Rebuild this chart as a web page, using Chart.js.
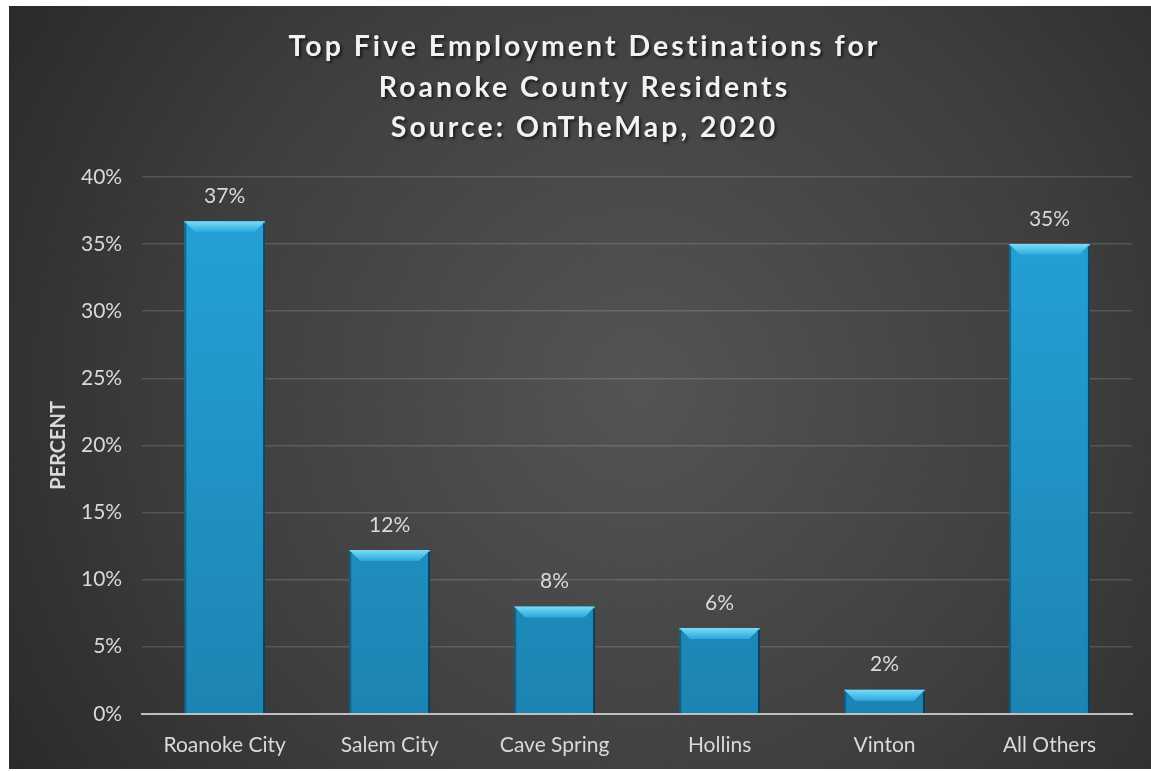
<!DOCTYPE html>
<html>
<head>
<meta charset="utf-8">
<script src="https://cdn.jsdelivr.net/npm/chart.js@4.4.1/dist/chart.umd.min.js"></script>
<style>
    body { margin: 0; background: #ffffff; }
    #wrap { position: absolute; left: 9px; top: 6px; width: 1142px; height: 763px; }
</style>
</head>
<body>
<div id="wrap"><canvas id="barchart"></canvas></div>
<script>
// data
const places = ['Roanoke City', 'Salem City', 'Cave Spring', 'Hollins', 'Vinton', 'All Others'];
const shares = [36.7, 12.2, 8.0, 6.4, 1.8, 35.0];
const titleLines = ['Top Five Employment Destinations for', 'Roanoke County Residents', 'Source: OnTheMap, 2020'];
const axisTitle = 'PERCENT';

const textColor = '#d9d9d9';
const fontName = 'Lato, "Noto Sans", sans-serif';

// dark radial background + title
const backdrop = {
    id: 'backdrop',
    beforeDraw(chart) {
        const ctx = chart.ctx;
        const w = chart.width, h = chart.height;
        ctx.save();
        const g = ctx.createRadialGradient(w * 0.55, h * 0.5, 0, w * 0.55, h * 0.5, w * 0.7);
        g.addColorStop(0, '#545454');
        g.addColorStop(0.55, '#3e3e3e');
        g.addColorStop(1, '#262626');
        ctx.fillStyle = g;
        ctx.fillRect(0, 0, w, h);

        ctx.font = 'bold 28.5px ' + fontName;
        ctx.letterSpacing = '3px';
        ctx.textAlign = 'center';
        ctx.textBaseline = 'middle';
        ctx.fillStyle = '#f2f2f2';
        ctx.shadowColor = 'rgba(0,0,0,0.6)';
        ctx.shadowOffsetX = 2;
        ctx.shadowOffsetY = 2;
        ctx.shadowBlur = 3;
        titleLines.forEach(function (line, i) {
            ctx.fillText(line, w / 2 + 4.5, 41 + i * 40.5);
        });
        ctx.restore();
    }
};

// bevel on the bars and value labels above them
const bevel = {
    id: 'bevel',
    afterDatasetsDraw(chart) {
        const ctx = chart.ctx;
        const meta = chart.getDatasetMeta(0);
        ctx.save();
        meta.data.forEach(function (bar, i) {
            const left = bar.x - bar.width / 2;
            const right = bar.x + bar.width / 2;
            const top = bar.y;
            const bottom = bar.base;
            const b = Math.min(11, (bottom - top) / 2);

            // top facet
            const tg = ctx.createLinearGradient(0, top, 0, top + b);
            tg.addColorStop(0, '#7adbf8');
            tg.addColorStop(1, '#2aa9dc');
            ctx.fillStyle = tg;
            ctx.beginPath();
            ctx.moveTo(left, top);
            ctx.lineTo(right, top);
            ctx.lineTo(right - b, top + b);
            ctx.lineTo(left + b, top + b);
            ctx.closePath();
            ctx.fill();

            // side edges
            ctx.fillStyle = 'rgba(10,60,90,0.55)';
            ctx.fillRect(left, top + 2, 2, bottom - top - 2);
            ctx.fillStyle = 'rgba(5,40,65,0.75)';
            ctx.fillRect(right - 2, top + 2, 2, bottom - top - 2);

            // value label
            ctx.font = '21px ' + fontName;
            ctx.fillStyle = textColor;
            ctx.textAlign = 'center';
            ctx.textBaseline = 'middle';
            ctx.fillText(Math.round(shares[i]) + '%', bar.x, top - 25);
        });
        ctx.restore();
    }
};

new Chart('barchart', {
    type: 'bar',
    data: {
        labels: places,
        datasets: [{
            data: shares,
            backgroundColor: function (context) {
                const area = context.chart.chartArea;
                if (!area) return '#2199cf';
                const g = context.chart.ctx.createLinearGradient(0, area.top, 0, area.bottom);
                g.addColorStop(0, '#25a3d8');
                g.addColorStop(1, '#1c84b2');
                return g;
            },
            borderWidth: 0,
            categoryPercentage: 1,
            barPercentage: 0.49
        }]
    },
    options: {
        responsive: true,
        maintainAspectRatio: false,
        animation: false,
        layout: {
            padding: { top: 171, right: 19, bottom: 0, left: 38 }
        },
        plugins: {
            legend: { display: false },
            tooltip: { enabled: false }
        },
        scales: {
            x: {
                grid: { display: false },
                border: { display: true, color: '#bfbfbf', width: 2 },
                ticks: {
                    color: textColor,
                    font: { family: fontName, size: 21 },
                    padding: 11,
                    maxRotation: 0
                }
            },
            y: {
                min: 0,
                max: 40,
                grid: {
                    color: 'rgba(255,255,255,0.14)',
                    lineWidth: 1.5,
                    drawTicks: false
                },
                border: { display: false },
                ticks: {
                    stepSize: 5,
                    color: textColor,
                    font: { family: fontName, size: 21 },
                    padding: 20,
                    callback: function (v) { return v + '%'; }
                },
                title: {
                    display: true,
                    text: axisTitle,
                    color: textColor,
                    font: { family: fontName, size: 20, weight: 'bold' },
                    padding: { top: 0, bottom: -10 }
                }
            }
        }
    },
    plugins: [backdrop, bevel]
});
</script>
</body>
</html>
